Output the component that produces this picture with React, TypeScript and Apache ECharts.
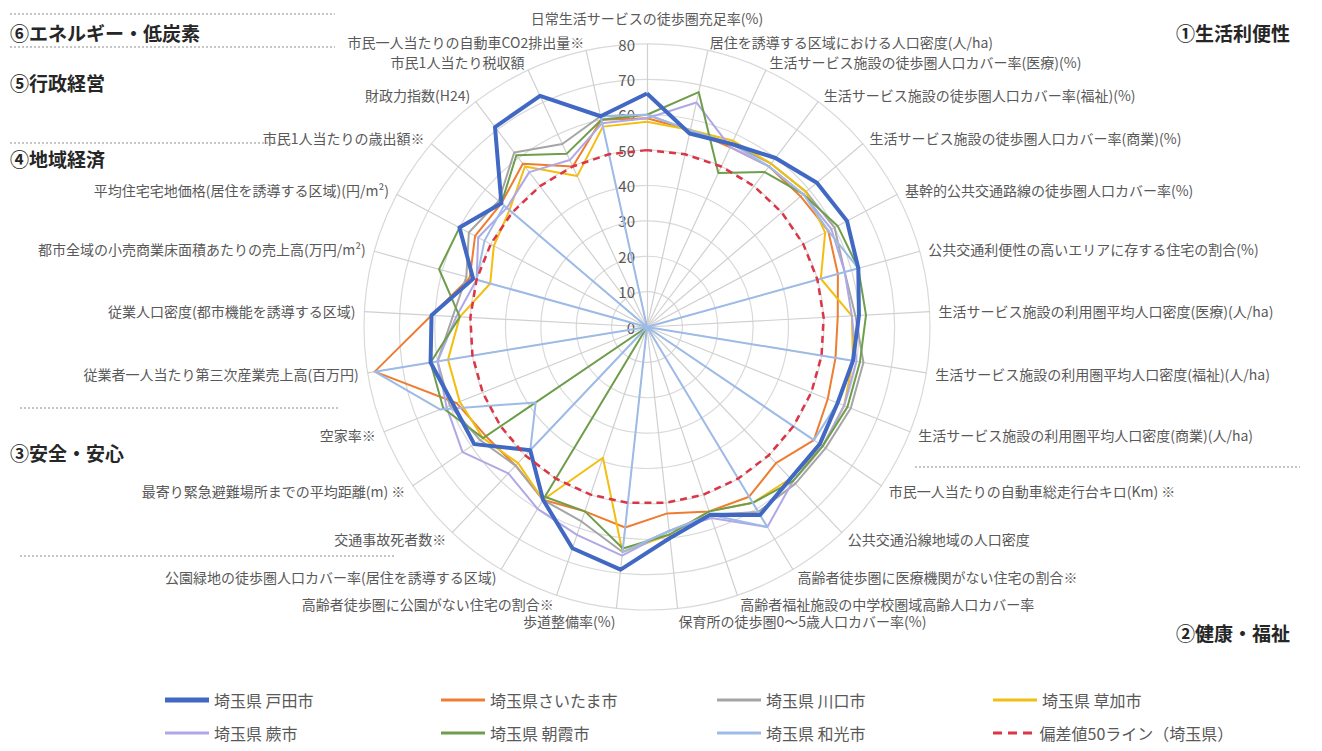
import React, { useEffect, useRef } from 'react';
import * as echarts from 'echarts';

// Indicators in clockwise order from the top
const indicators = [
  '日常生活サービスの徒歩圏充足率(%)',
  '居住を誘導する区域における人口密度(人/ha)',
  '生活サービス施設の徒歩圏人口カバー率(医療)(%)',
  '生活サービス施設の徒歩圏人口カバー率(福祉)(%)',
  '生活サービス施設の徒歩圏人口カバー率(商業)(%)',
  '基幹的公共交通路線の徒歩圏人口カバー率(%)',
  '公共交通利便性の高いエリアに存する住宅の割合(%)',
  '生活サービス施設の利用圏平均人口密度(医療)(人/ha)',
  '生活サービス施設の利用圏平均人口密度(福祉)(人/ha)',
  '生活サービス施設の利用圏平均人口密度(商業)(人/ha)',
  '市民一人当たりの自動車総走行台キロ(Km) ※',
  '公共交通沿線地域の人口密度',
  '高齢者徒歩圏に医療機関がない住宅の割合※',
  '高齢者福祉施設の中学校圏域高齢人口カバー率',
  '保育所の徒歩圏0～5歳人口カバー率(%)',
  '歩道整備率(%)',
  '高齢者徒歩圏に公園がない住宅の割合※',
  '公園緑地の徒歩圏人口カバー率(居住を誘導する区域)',
  '交通事故死者数※',
  '最寄り緊急避難場所までの平均距離(m) ※',
  '空家率※',
  '従業者一人当たり第三次産業売上高(百万円)',
  '従業人口密度(都市機能を誘導する区域)',
  '都市全域の小売商業床面積あたりの売上高(万円/m²)',
  '平均住宅宅地価格(居住を誘導する区域)(円/m²)',
  '市民1人当たりの歳出額※',
  '財政力指数(H24)',
  '市民1人当たり税収額',
  '市民一人当たりの自動車CO2排出量※',
];

const seriesNames = [
  '埼玉県 戸田市',
  '埼玉県さいたま市',
  '埼玉県 川口市',
  '埼玉県 草加市',
  '埼玉県 蕨市',
  '埼玉県 朝霞市',
  '埼玉県 和光市',
  '偏差値50ライン（埼玉県）',
];

const toda = [66, 56, 57, 60, 63, 64, 62, 60, 59, 58, 59, 59, 62, 56, 60, 69, 66, 57, 48, 59, 59, 62, 61, 51, 60, 54, 71, 72, 61];
const saitama = [59, 57, 56, 57, 57, 58, 56, 54, 54, 55, 57, 53, 56, 55, 53, 57, 55, 57, 54, 55, 58, 78, 61, 52, 55, 54, 58, 50, 60];
const kawaguchi = [60, 57, 57, 58, 59, 60, 58, 59, 62, 62, 61, 61, 61, 56, 58, 64, 58, 57, 54, 57, 60, 60, 55, 53, 57, 55, 62, 57, 61];
const soka = [58, 57, 58, 58, 59, 57, 51, 58, 59, 60, 60, 59, 58, 55, 59, 64, 39, 57, 53, 56, 57, 57, 53, 46, 49, 51, 57, 47, 58];
const warabi = [59, 65, 56, 57, 58, 59, 58, 58, 60, 60, 60, 60, 66, 57, 58, 65, 62, 60, 57, 63, 61, 60, 54, 50, 54, 52, 55, 52, 59];
const asaka = [60, 68, 48, 55, 58, 61, 62, 62, 61, 61, 60, 60, 58, 55, 59, 63, 55, 56, 0, 56, 62, 62, 53, 61, 60, 54, 61, 54, 60];
const wako = [60, 57, 57, 57, 58, 58, 62, 0, 59, 58, 57, 0, 66, 56, 58, 64, 0, 0, 48, 38, 63, 78, 0, 50, 52, 53, 0, 0, 61];
const baseline50 = [50, 50, 50, 50, 50, 50, 50, 50, 50, 50, 50, 50, 50, 50, 50, 50, 50, 50, 50, 50, 50, 50, 50, 50, 50, 50, 50, 50, 50];

const seriesValues = [toda, saitama, kawaguchi, soka, warabi, asaka, wako, baseline50];

const categoryHeadings = ['①生活利便性', '②健康・福祉', '③安全・安心', '④地域経済', '⑤行政経営', '⑥エネルギー・低炭素'];

const FONT = '"Noto Sans CJK JP", "Noto Sans", sans-serif';

// ECharts radar runs counter-clockwise; reorder so the chart reads clockwise
const cw = <T,>(arr: T[]): T[] => [arr[0], ...arr.slice(1).reverse()];

export default function App() {
  const ref = useRef<HTMLDivElement>(null);

  useEffect(() => {
    if (!ref.current) return;
    const chart = echarts.init(ref.current, undefined, { renderer: 'svg' });

    const cx = 647;
    const cy = 327;
    const R = 283;
    const labelColor = '#595959';

    const colors = ['#4169C4', '#ED7D31', '#A5A5A5', '#F2BE0F', '#B0A8E6', '#6E9E4C', '#9DBBE6', '#DC3545'];
    const widths = [4, 2, 2, 2, 2, 2, 2, 2.5];

    const legendPos = [
      [160, 687], [436, 687], [712, 687], [988, 687],
      [160, 720], [436, 720], [712, 720], [988, 720],
    ];

    const legends = seriesNames.map((n, i) => ({
      data: [n],
      left: legendPos[i][0],
      top: legendPos[i][1],
      itemWidth: 44,
      itemHeight: i === 0 ? 5 : 3,
      itemGap: 8,
      icon: i === 7 ? 'path://M0,0h9v3h-9z M15,0h9v3h-9z M30,0h9v3h-9z' : 'rect',
      textStyle: { color: labelColor, fontSize: 16, fontFamily: FONT },
      selectedMode: false,
    }));

    const dotted = (x1: number, y1: number, x2: number) => ({
      type: 'line',
      shape: { x1, y1, x2, y2: y1 },
      style: { stroke: '#8C8C8C', lineWidth: 1, lineDash: [2, 2] },
      silent: true,
    });

    const heading = (text: string, x: number, y: number) => ({
      type: 'text',
      x,
      y,
      style: {
        text,
        fill: '#262626',
        fontSize: 19,
        fontWeight: 'bold',
        fontFamily: FONT,
        verticalAlign: 'middle',
        align: 'left',
      },
      silent: true,
    });

    const nameFormatter = (name: string) => {
      if (name === indicators[0]) return `{up|${name}}`;
      if (name === indicators[14] || name === indicators[15]) return `{down|${name}}`;
      return name;
    };

    const option: any = {
      animation: false,
      backgroundColor: '#ffffff',
      legend: legends,
      radar: [
        {
          center: [cx, cy],
          radius: R,
          startAngle: 90,
          shape: 'circle',
          splitNumber: 8,
          indicator: cw(indicators).map((name) => ({ name, min: 0, max: 80 })),
          axisNameGap: 9,
          axisName: {
            color: labelColor,
            fontSize: 14,
            fontFamily: FONT,
            formatter: nameFormatter,
            rich: {
              up: { padding: [0, 0, 10, 0], color: labelColor, fontSize: 14, fontFamily: FONT },
              down: { padding: [8, 0, 0, 0], color: labelColor, fontSize: 14, fontFamily: FONT },
            },
          },
          splitLine: { lineStyle: { color: '#D9D9D9', width: 1.2 } },
          splitArea: { show: false },
          axisLine: { lineStyle: { color: '#D0D0D0', width: 1.2 } },
          axisTick: { show: false },
          axisLabel: { show: false },
        },
        {
          center: [cx, cy],
          radius: R,
          startAngle: 90,
          shape: 'circle',
          splitNumber: 8,
          indicator: [{ name: '', min: 0, max: 80 }],
          axisName: { show: false },
          splitLine: { show: false },
          splitArea: { show: false },
          axisLine: { show: false },
          axisTick: { show: false },
          axisLabel: { show: true, color: labelColor, fontSize: 15, fontFamily: FONT, margin: 12 },
          silent: true,
        },
      ],
      series: seriesNames.map((name, i) => ({
        type: 'radar',
        name,
        radarIndex: 0,
        symbol: 'none',
        z: i === 7 ? 4 : i === 0 ? 3 : 2,
        color: colors[i],
        lineStyle: {
          color: colors[i],
          width: widths[i],
          type: i === 7 ? [7, 5] : 'solid',
        },
        itemStyle: { color: colors[i] },
        data: [{ value: cw(seriesValues[i]), name }],
      })),
      graphic: [
        heading(categoryHeadings[5], 10, 32),
        heading(categoryHeadings[4], 10, 82),
        heading(categoryHeadings[3], 10, 158),
        heading(categoryHeadings[2], 10, 452),
        heading(categoryHeadings[0], 1176, 32),
        heading(categoryHeadings[1], 1176, 632),
        dotted(10, 14, 335),
        dotted(10, 47, 335),
        dotted(10, 143, 280),
        dotted(20, 408, 340),
        dotted(20, 556, 395),
        dotted(915, 467, 1300),
      ],
    };

    chart.setOption(option);
    return () => chart.dispose();
  }, []);

  return (
    <div
      ref={ref}
      style={{ position: 'absolute', left: 0, top: 0, width: 1322, height: 751 }}
    />
  );
}
